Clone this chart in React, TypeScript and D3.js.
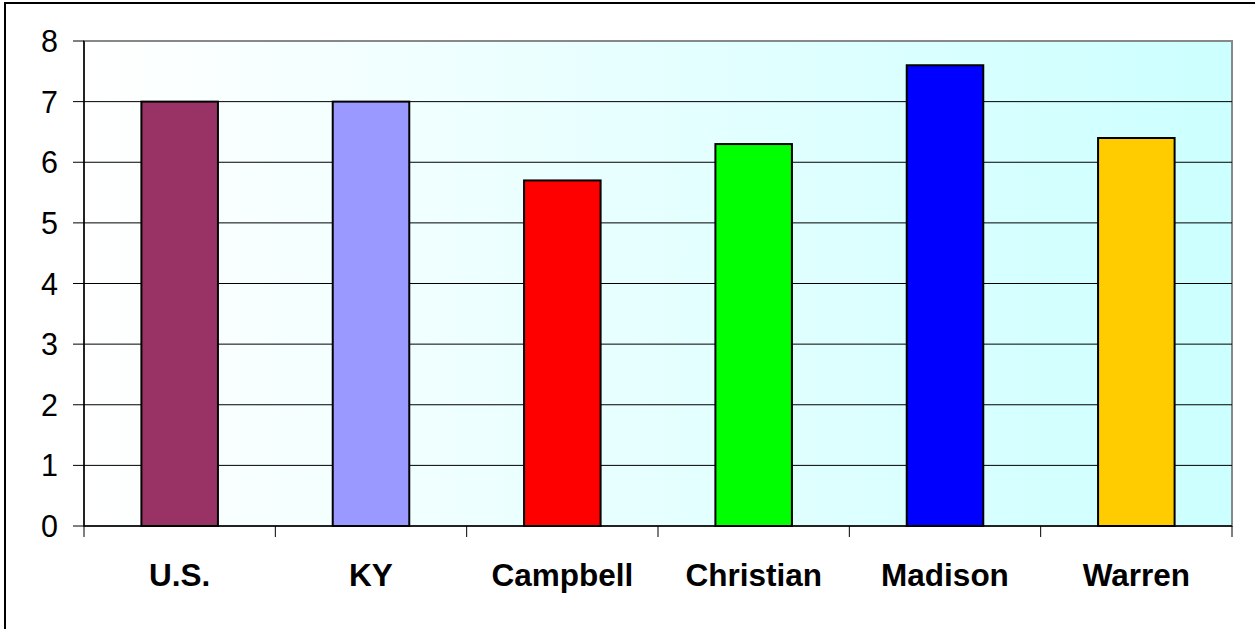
import React from "react";
import * as d3 from "d3";

const categories = ["U.S.", "KY", "Campbell", "Christian", "Madison", "Warren"];
const values = [7, 7, 5.7, 6.3, 7.6, 6.4];
const colors = ["#993366", "#9999FF", "#FF0000", "#00FF00", "#0000FF", "#FFCC00"];
const yTicks = [0, 1, 2, 3, 4, 5, 6, 7, 8];

export default function App() {
  const W = 1255, H = 629;
  const left = 84, right = 1232, top = 41, bottom = 526;
  const x = d3.scaleBand<string>().domain(categories).range([left, right]).paddingInner(0).paddingOuter(0);
  const y = d3.scaleLinear().domain([0, 8]).range([bottom, top]);
  const bw = x.bandwidth() * 0.4;
  return (
    <svg width={W} height={H} style={{ position: "absolute", left: 0, top: 0, fontFamily: "Arial, 'Liberation Sans', sans-serif" }}>
      <defs>
        <linearGradient id="bg" x1="0" x2="1" y1="0" y2="0">
          <stop offset="0" stopColor="#FFFFFF" />
          <stop offset="1" stopColor="#CCFFFF" />
        </linearGradient>
      </defs>
      <rect x={0} y={0} width={W} height={H} fill="#fff" />
      <rect x={5} y={3} width={W + 10} height={H + 10} fill="none" stroke="#000" strokeWidth={2} />
      <rect x={left} y={top} width={right - left} height={bottom - top} fill="url(#bg)" stroke="#888" strokeWidth={2} />
      {yTicks.map((t) => (
        <g key={t}>
          {t > 0 && t < 8 && <line x1={left} x2={right} y1={y(t)} y2={y(t)} stroke="#000" strokeWidth={1} />}
          <line x1={73} x2={left} y1={y(t)} y2={y(t)} stroke="#000" strokeWidth={1} />
          <text x={58} y={y(t) + 11} textAnchor="end" fontSize={30.5}>{t}</text>
        </g>
      ))}
      {categories.map((c, i) => (
        <rect key={c} x={x(c)! + (x.bandwidth() - bw) / 2} y={y(values[i])} width={bw} height={bottom - y(values[i])}
          fill={colors[i]} stroke="#000" strokeWidth={2} />
      ))}
      <line x1={left} x2={left} y1={top} y2={bottom} stroke="#000" strokeWidth={1.5} />
      <line x1={left} x2={right} y1={bottom} y2={bottom} stroke="#000" strokeWidth={1.5} />
      {[...categories.map((c) => x(c)!), right].map((v, i) => (
        <line key={i} x1={v} x2={v} y1={bottom} y2={bottom + 11} stroke="#000" strokeWidth={1} />
      ))}
      {categories.map((c) => (
        <text key={c} x={x(c)! + x.bandwidth() / 2} y={586} textAnchor="middle" fontSize={31.5} fontWeight="bold">{c}</text>
      ))}
    </svg>
  );
}
